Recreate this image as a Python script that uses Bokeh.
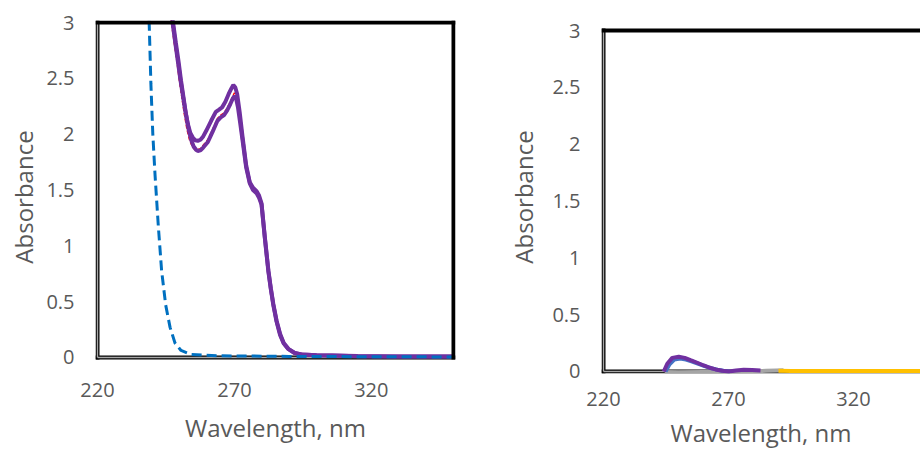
from bokeh.plotting import figure
from bokeh.layouts import row
from bokeh.models import FixedTicker, Title
from bokeh.embed import file_html
from bokeh.resources import INLINE

# ---------------- data: left panel ----------------
wl_a = [246.8, 247.4, 248.4, 249.3, 250.2, 251.1, 252.0, 253.0, 253.9, 254.8, 255.7, 256.6,
        257.6, 258.6, 259.7, 261.5, 263.2, 264.4, 265.5, 266.7, 267.9, 268.9, 269.6, 270.3,
        271.0, 271.9, 273.0, 274.3, 275.6, 276.8, 278.1, 279.0, 279.9, 281.1, 282.4, 283.3,
        284.2, 285.4, 286.7, 288.0, 289.7, 292.0, 294.6, 300.0, 305.7, 315.0, 330.0, 350.0]
abs_a = [3.15, 3.0, 2.82, 2.66, 2.50, 2.36, 2.22, 2.09, 2.01, 1.97, 1.945, 1.94,
         1.95, 1.98, 2.03, 2.12, 2.20, 2.22, 2.24, 2.29, 2.36, 2.41, 2.44, 2.42,
         2.36, 2.20, 1.97, 1.72, 1.57, 1.52, 1.49, 1.45, 1.38, 1.08, 0.78, 0.62,
         0.48, 0.33, 0.21, 0.13, 0.078, 0.04, 0.027, 0.02, 0.018, 0.013, 0.01, 0.008]

wl_b = [247.0, 247.6, 248.6, 249.6, 250.5, 251.4, 252.3, 253.3, 254.2, 255.1, 256.0, 256.6,
        257.6, 258.6, 260.3, 262.0, 263.8, 265.0, 266.2, 267.3, 268.5, 269.4, 270.0, 270.6,
        271.3, 272.1, 273.0, 274.3, 275.6, 276.8, 278.1, 279.0, 279.9, 281.1, 282.4, 283.3,
        284.2, 285.4, 286.7, 288.0, 289.7, 292.0, 294.6, 300.0, 305.7, 315.0, 330.0, 350.0]
abs_b = [3.15, 3.0, 2.82, 2.65, 2.48, 2.33, 2.18, 2.04, 1.95, 1.89, 1.86, 1.85,
         1.855, 1.88, 1.93, 2.02, 2.12, 2.15, 2.17, 2.21, 2.27, 2.32, 2.34, 2.32,
         2.24, 2.10, 1.94, 1.70, 1.56, 1.50, 1.47, 1.43, 1.37, 1.07, 0.77, 0.61,
         0.47, 0.32, 0.20, 0.125, 0.075, 0.04, 0.026, 0.02, 0.017, 0.012, 0.01, 0.008]

wl_c = [246.4, 247.0, 248.0, 249.0, 249.9, 250.8, 251.7, 252.7, 253.6, 254.6, 255.6, 256.4,
        257.6, 258.6, 260.3, 262.0, 263.8, 265.0, 266.2, 267.3, 268.5, 269.4, 270.0, 270.6,
        271.3, 272.1, 273.0, 274.3, 275.6, 276.8, 278.1, 279.0, 279.9, 281.1, 282.4, 283.3,
        284.2, 285.4, 286.7, 288.0, 289.7, 292.0, 294.6, 300.0, 305.7, 315.0, 330.0, 350.0]
abs_c = [3.15, 3.0, 2.82, 2.65, 2.48, 2.33, 2.18, 2.04, 1.95, 1.89, 1.86, 1.86,
         1.87, 1.90, 1.95, 2.04, 2.14, 2.17, 2.19, 2.23, 2.29, 2.34, 2.37, 2.35,
         2.27, 2.12, 1.95, 1.71, 1.56, 1.51, 1.48, 1.44, 1.37, 1.07, 0.77, 0.61,
         0.47, 0.32, 0.20, 0.125, 0.075, 0.04, 0.026, 0.02, 0.017, 0.012, 0.01, 0.008]

wl_d = [238.6, 238.9, 239.5, 240.2, 241.0, 242.2, 243.4, 244.9, 246.5, 248.3, 250.5,
        254.2, 265.0, 290.0, 320.0, 350.0]
abs_d = [3.15, 2.97, 2.45, 2.0, 1.64, 1.18, 0.78, 0.47, 0.27, 0.13, 0.063,
         0.027, 0.015, 0.01, 0.007, 0.005]

# ---------------- data: right panel ----------------
wl_p2 = [244.1, 245.5, 247.5, 250.1, 252.5, 254.8, 257.5, 260.1, 262.5, 264.8, 267.5,
         270.1, 273.0, 276.1, 279.5, 282.8]
abs_p2 = [0.0, 0.068, 0.12, 0.13, 0.12, 0.10, 0.077, 0.053, 0.033, 0.018, 0.006,
          0.0, 0.008, 0.015, 0.013, 0.009]
wl_b2 = [244.8, 246.3, 248.3, 250.7, 253.0, 255.5, 258.0, 260.5, 263.0, 265.5, 268.0, 270.5]
abs_b2 = [0.0, 0.06, 0.105, 0.115, 0.105, 0.088, 0.068, 0.048, 0.03, 0.016, 0.006, 0.0]
wl_g2 = [244.5, 250.0, 260.0, 270.0, 280.0, 285.0, 289.0, 292.0]
abs_g2 = [-0.005, -0.006, -0.004, -0.002, 0.002, 0.006, 0.009, 0.01]
wl_y2 = [290.0, 295.0, 305.0, 320.0, 335.0, 350.0]
abs_y2 = [0.006, 0.005, 0.005, 0.005, 0.005, 0.005]

# axes
X_LO, X_HI = 220, 350
Y_LO, Y_HI = 0, 3
x_ticks = [220, 270, 320]
y_ticks = [0, 0.5, 1, 1.5, 2, 2.5, 3]
y_tick_labels = ["0", "0.5", "1", "1.5", "2", "2.5", "3"]

FONT = "Open Sans"
TXT = "#595959"


def style(p, ylab_standoff, ytick_standoff, xtick_standoff):
    p.xgrid.visible = False
    p.ygrid.visible = False
    p.outline_line_color = None
    p.xaxis.ticker = FixedTicker(ticks=x_ticks)
    p.yaxis.ticker = FixedTicker(ticks=y_ticks)
    p.yaxis.major_label_overrides = {t: l for t, l in zip(y_ticks, y_tick_labels)}
    for ax in (p.xaxis[0], p.yaxis[0]):
        ax.axis_line_color = None
        ax.major_tick_line_color = None
        ax.minor_tick_line_color = None
        ax.major_tick_out = 0
        ax.major_tick_in = 0
        ax.major_label_text_font = FONT
        ax.major_label_text_font_size = "20px"
        ax.major_label_text_color = TXT
        ax.axis_label_text_font = FONT
        ax.axis_label_text_font_size = "24px"
        ax.axis_label_text_color = TXT
        ax.axis_label_text_font_style = "normal"
    p.yaxis.axis_label = "Absorbance"
    p.yaxis.major_label_standoff = ytick_standoff
    p.yaxis.axis_label_standoff = ylab_standoff
    p.xaxis.major_label_standoff = xtick_standoff


def frame_lines(p, x_right):
    # Excel-like plot-area border: double line on the left and bottom
    p.line([X_LO, X_LO], [Y_LO, Y_HI], line_color="black", line_width=4, line_cap="square")
    p.line([X_LO, x_right], [Y_LO, Y_LO], line_color="black", line_width=4, line_cap="square")
    p.line([X_LO, X_LO], [Y_LO, Y_HI], line_color="#A6A6A6", line_width=1.4)
    p.line([X_LO, x_right], [Y_LO, Y_LO], line_color="#A6A6A6", line_width=1.4)


def top_lines(p, x_right, right_side):
    # heavy black top (and right) border
    p.line([X_LO, x_right], [Y_HI, Y_HI], line_color="black", line_width=4, line_cap="square")
    if right_side:
        p.line([x_right, x_right], [Y_LO, Y_HI], line_color="black", line_width=4, line_cap="square")


H = 454
# ---------------- left figure ----------------
p1 = figure(width=497, height=H, x_range=(219.27, 350.73), y_range=(-0.1433, 3.018),
            output_backend="svg", toolbar_location=None,
            min_border_left=95, min_border_right=42, min_border_top=20, min_border_bottom=81)
style(p1, ylab_standoff=3, ytick_standoff=21, xtick_standoff=9)
p1.xaxis.axis_label = "Wavelength, nm"
p1.xaxis.axis_label_standoff = 11
frame_lines(p1, X_HI)
p1.line(wl_c, abs_c, line_color="#FF0000", line_width=1.5, line_dash="4 2")
p1.line(wl_a, abs_a, line_color="#7030A0", line_width=4)
p1.line(wl_b, abs_b, line_color="#7030A0", line_width=4)
p1.line(wl_d, abs_d, line_color="#0070C0", line_width=3, line_dash="10 5")
top_lines(p1, X_HI, True)

# ---------------- right figure ----------------
p2 = figure(width=423, height=H, x_range=(219.2, 346.8), y_range=(-0.0176, 3.088),
            output_backend="svg", toolbar_location=None,
            min_border_left=104, min_border_right=0, min_border_top=20, min_border_bottom=81)
style(p2, ylab_standoff=9, ytick_standoff=21, xtick_standoff=18)
frame_lines(p2, X_HI)
p2.line(wl_g2, abs_g2, line_color="#A5A5A5", line_width=4)
p2.line(wl_b2, abs_b2, line_color="#4472C4", line_width=4)
p2.line(wl_p2, abs_p2, line_color="#7030A0", line_width=4)
p2.line(wl_y2, abs_y2, line_color="#FFC000", line_width=4)
top_lines(p2, X_HI, False)
p2.add_layout(Title(text="Wavelength, nm", align="center", offset=5, standoff=11,
                    text_font=FONT, text_font_size="24px", text_color=TXT,
                    text_font_style="normal"), "below")

layout = row(p1, p2)
open("out.html", "w").write(file_html(layout, INLINE))
